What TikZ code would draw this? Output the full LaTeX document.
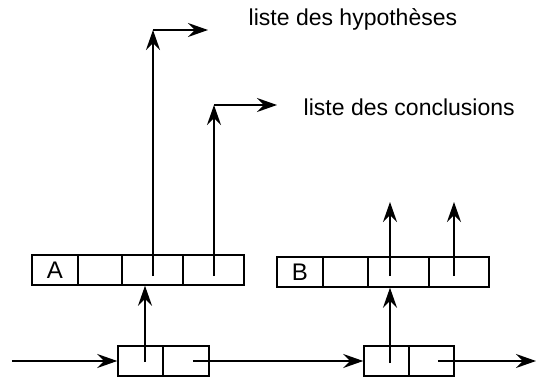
\documentclass[tikz,border=0pt]{standalone}
\usepackage{fontspec}
\setmainfont{Liberation Sans}
\usetikzlibrary{arrows.meta}

\begin{document}
\begin{tikzpicture}[x=0.5pt,y=0.5pt,line width=0.75pt,
        cell/.style={draw, rectangle, minimum height=15pt, inner sep=0pt, font=\fontsize{12}{14}\selectfont},
        label/.style={anchor=base west, inner sep=0pt, font=\fontsize{11.5}{13}\selectfont},
        >={Stealth[length=10pt,width=7pt,inset=3.5pt]}]
        %CADRE
        \useasboundingbox (0,0) rectangle (538,382);

        %CELLULES A
        \node[cell, minimum width=23pt]   (A1) at (55,112) {A};
        \node[cell, minimum width=22pt]   (A2) at (100,112) {};
        \node[cell, minimum width=30.5pt] (A3) at (152.5,112) {};
        \node[cell, minimum width=30.5pt] (A4) at (213.5,112) {};

        %CELLULES B
        \node[cell, minimum width=23pt]   (B1) at (300,110) {B};
        \node[cell, minimum width=22.5pt] (B2) at (345.5,110) {};
        \node[cell, minimum width=30.5pt] (B3) at (398.5,110) {};
        \node[cell, minimum width=30pt]   (B4) at (459,110) {};

        %DOUBLETS
        \node[cell, minimum width=22.5pt] (P1) at (140.5,21) {};
        \node[cell, minimum width=23pt]   (P2) at (186,21) {};
        \node[cell, minimum width=22.5pt] (Q1) at (386.5,21) {};
        \node[cell, minimum width=22.5pt] (Q2) at (431.5,21) {};

        %TEXTES
        \node[label] (hyp) at (248,357) {liste des hypothèses};
        \node[label] (concl) at (303,267) {liste des conclusions};

        %KOORDINAT
        \coordinate (in) at (12,21);
        \coordinate (p1) at (145,20);
        \coordinate (p2) at (193,21);
        \coordinate (q1) at (390,19);
        \coordinate (q2) at (438,21);
        \coordinate (out) at (536,21);
        \coordinate (a3) at (153,106);
        \coordinate (a4) at (214,106);
        \coordinate (b3) at (390,106);
        \coordinate (b4) at (454,106);
        \coordinate (h1) at (153,352);
        \coordinate (h2) at (208,352);
        \coordinate (c1) at (214,277);
        \coordinate (c2) at (277,277);
        \coordinate (b3t) at (390,180);
        \coordinate (b4t) at (454,180);

        %CHAINE
        \draw[->] (in) -- (P1.west);
        \draw[->] (p2) -- (Q1.west);
        \draw[->] (q2) -- (out);
        \draw[->] (p1) -- (p1 |- A3.south);
        \draw[->] (q1) -- (q1 |- B3.south);

        %LISTES
        \draw[->] (a3) -- (h1);
        \draw[->] (h1) -- (h2);
        \draw[->] (a4) -- (c1);
        \draw[->] (c1) -- (c2);
        \draw[->] (b3) -- (b3t);
        \draw[->] (b4) -- (b4t);
    \end{tikzpicture}
\end{document}
